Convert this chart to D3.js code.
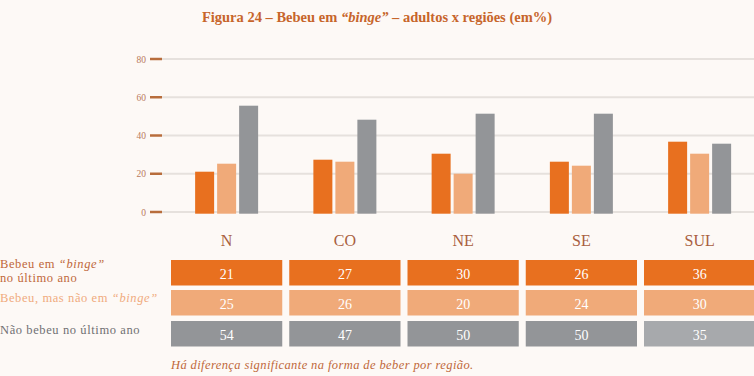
<!DOCTYPE html>
<html>
<head>
<meta charset="utf-8">
<script src="https://cdn.jsdelivr.net/npm/d3@7"></script>
<style>
  body { margin: 0; background: #fdf9f6; }
  svg { display: block; }
  text { font-family: "Liberation Serif", "DejaVu Serif", serif; }
</style>
</head>
<body>
<div id="chart"></div>
<script>
const regions = ["N", "CO", "NE", "SE", "SUL"]
const series = ["binge", "naoBinge", "naoBebeu"]
const binge = [21, 27, 30, 26, 36]
const naoBinge = [25, 26, 20, 24, 30]
const naoBebeu = [54, 47, 50, 50, 35]
const yTicks = [0, 20, 40, 60, 80]

const W = 754, H = 376
const COLORS = { binge: "#e8701f", naoBinge: "#f0aa79", naoBebeu: "#939598" }
const values = { binge, naoBinge, naoBebeu }

const svg = d3.select("#chart").append("svg")
  .attr("width", W).attr("height", H)

svg.append("rect").attr("width", W).attr("height", H).attr("fill", "#fdf9f6")

// title
const title = svg.append("text")
  .attr("x", 377).attr("y", 22)
  .attr("text-anchor", "middle")
  .attr("fill", "#c7652b")
  .style("font-size", "14.5px")
  .style("font-weight", "bold")
title.append("tspan").text("Figura 24 – Bebeu em ")
title.append("tspan").style("font-style", "italic").text("“binge”")
title.append("tspan").text(" – adultos x regiões (em%)")

// axis scale (gridlines) and bar scale: in the original the bars sit on a
// slightly lower baseline with a slightly steeper scale than the gridlines
const y = d3.scaleLinear().domain([0, 80]).range([212, 59])
const yBar = d3.scaleLinear().domain([0, 80]).range([213.7, 53.7])

const x = d3.scaleBand()
  .domain(regions)
  .range([171, 755.25])
  .paddingInner(7 / 118.25)
  .paddingOuter(0)

// gridlines + ticks
svg.selectAll(".grid").data(yTicks).enter().append("line")
  .attr("x1", 162).attr("x2", W)
  .attr("y1", d => y(d)).attr("y2", d => y(d))
  .attr("stroke", "#e6e1dd").attr("stroke-width", 2)

svg.selectAll(".tick").data(yTicks).enter().append("line")
  .attr("x1", 150).attr("x2", 162)
  .attr("y1", d => y(d)).attr("y2", d => y(d))
  .attr("stroke", "#b86d3c").attr("stroke-width", 2.5)

svg.selectAll(".tickLabel").data(yTicks).enter().append("text")
  .attr("x", 146).attr("y", d => y(d) + 3.5)
  .attr("text-anchor", "end")
  .attr("fill", "#b97a5c")
  .style("font-size", "9.5px")
  .text(d => d)

// bars
const groups = svg.selectAll(".region").data(regions).enter().append("g")
  .attr("transform", d => `translate(${x(d) + x.bandwidth() / 2}, 0)`)

const xs = d3.scaleBand().domain(series).range([-31.5, 31.5]).paddingInner(3 / 22)

groups.each(function (r, i) {
  d3.select(this).selectAll("rect").data(series).enter().append("rect")
    .attr("x", s => xs(s))
    .attr("width", xs.bandwidth())
    .attr("y", s => yBar(values[s][i]))
    .attr("height", s => yBar(0) - yBar(values[s][i]))
    .attr("fill", s => COLORS[s])
})

// region labels
svg.selectAll(".regLabel").data(regions).enter().append("text")
  .attr("x", d => x(d) + x.bandwidth() / 2)
  .attr("y", 246)
  .attr("text-anchor", "middle")
  .attr("fill", "#a95f3f")
  .style("font-size", "16px")
  .text(d => d)

// table
const rowY = { binge: 260, naoBinge: 290, naoBebeu: 321 }
const rowH = 25.5
series.forEach(s => {
  regions.forEach((r, i) => {
    const fill = (s === "naoBebeu" && r === "SUL") ? "#a7a9ac" : COLORS[s]
    svg.append("rect")
      .attr("x", x(r)).attr("width", x.bandwidth())
      .attr("y", rowY[s]).attr("height", rowH)
      .attr("fill", fill)
    svg.append("text")
      .attr("x", x(r) + x.bandwidth() / 2)
      .attr("y", rowY[s] + rowH / 2 + 6)
      .attr("text-anchor", "middle")
      .attr("fill", "#ffffff")
      .style("font-size", "14px")
      .text(values[s][i])
  })
})

// row labels
const labelStyle = sel => sel.style("font-size", "12.5px").style("letter-spacing", "0.6px")
const l1 = svg.append("text").attr("x", 0).attr("y", 268)
  .attr("fill", "#c0683a").call(labelStyle)
l1.append("tspan").text("Bebeu em ")
l1.append("tspan").style("font-style", "italic").text("“binge”")
svg.append("text").attr("x", 0).attr("y", 282)
  .attr("fill", "#c0683a").call(labelStyle)
  .text("no último ano")

const l2 = svg.append("text").attr("x", 0).attr("y", 302)
  .attr("fill", "#f0ab7e").call(labelStyle)
l2.append("tspan").text("Bebeu, mas não em ")
l2.append("tspan").style("font-style", "italic").text("“binge”")

svg.append("text").attr("x", 0).attr("y", 334)
  .attr("fill", "#707073").call(labelStyle)
  .text("Não bebeu no último ano")

// footnote
svg.append("text").attr("x", 171).attr("y", 369)
  .attr("fill", "#c0683a")
  .style("font-size", "12.5px")
  .style("font-style", "italic")
  .style("letter-spacing", "0.4px")
  .text("Há diferença significante na forma de beber por região.")
</script>
</body>
</html>
